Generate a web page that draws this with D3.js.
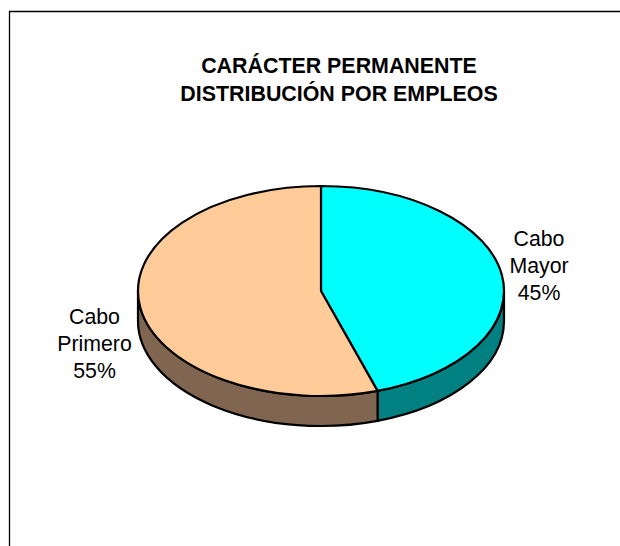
<!DOCTYPE html>
<html><head><meta charset="utf-8">
<script src="https://cdn.jsdelivr.net/npm/d3@7"></script>
<style>html,body{margin:0;padding:0;background:#fff}svg{display:block}</style>
</head><body><svg id="c" width="620" height="546"></svg>
<script>
const categories = ["Cabo Mayor", "Cabo Primero"];
const values = [45, 55];
const labelLines = [["Cabo", "Mayor", "45%"], ["Cabo", "Primero", "55%"]];
const topColors = ["#00ffff", "#ffcc99"];
const sideColors = ["#008080", "#806650"];
const titleLines = ["CARÁCTER PERMANENTE", "DISTRIBUCIÓN POR EMPLEOS"];

const svg = d3.select("#c");
const W = 620, H = 546;
const cx = 321, cy = 291, rx = 183, ry = 105, depth = 30;
const font = "'Liberation Sans', Arial, sans-serif";

svg.append("path")
  .attr("d", `M9.5,${H}V11.5H${W}`)
  .attr("fill", "none").attr("stroke", "#000").attr("stroke-width", 1.3);

svg.append("g").selectAll("text").data(titleLines).join("text")
  .attr("x", 339).attr("y", (d, i) => 73 + i * 28)
  .attr("text-anchor", "middle")
  .attr("font-family", font).attr("font-weight", "bold").attr("font-size", 21.4)
  .attr("fill", "#000").text(d => d);

const slices = d3.pie().sort(null).value(d => d)(values);
const px = a => cx + rx * Math.sin(a);
const py = a => cy - ry * Math.cos(a);

// visible front wall: angles between 90deg and 270deg (clockwise from the top)
const frontA = Math.PI / 2, frontB = 3 * Math.PI / 2;
const sideLayer = svg.append("g");
slices.forEach((s, i) => {
  const a = Math.max(s.startAngle, frontA), b = Math.min(s.endAngle, frontB);
  if (b <= a) return;
  const d = `M${px(a)},${py(a)}A${rx},${ry} 0 0 1 ${px(b)},${py(b)}` +
            `V${py(b) + depth}A${rx},${ry} 0 0 0 ${px(a)},${py(a) + depth}Z`;
  sideLayer.append("path").attr("d", d).attr("fill", sideColors[i])
    .attr("stroke", "#000").attr("stroke-width", 2.2).attr("stroke-linejoin", "round");
});

const topLayer = svg.append("g");
slices.forEach((s, i) => {
  const large = s.endAngle - s.startAngle > Math.PI ? 1 : 0;
  const d = `M${cx},${cy}L${px(s.startAngle)},${py(s.startAngle)}` +
            `A${rx},${ry} 0 ${large} 1 ${px(s.endAngle)},${py(s.endAngle)}Z`;
  topLayer.append("path").attr("d", d).attr("fill", topColors[i])
    .attr("stroke", "#000").attr("stroke-width", 2.2).attr("stroke-linejoin", "round");
});

const labelX = [539, 94.5], labelY = [246, 324];
labelLines.forEach((lines, i) => {
  svg.append("g").selectAll("text").data(lines).join("text")
    .attr("x", labelX[i]).attr("y", (d, j) => labelY[i] + j * 27)
    .attr("text-anchor", "middle")
    .attr("font-family", font).attr("font-size", 21.3)
    .attr("fill", "#000").text(d => d);
});
</script></body></html>
